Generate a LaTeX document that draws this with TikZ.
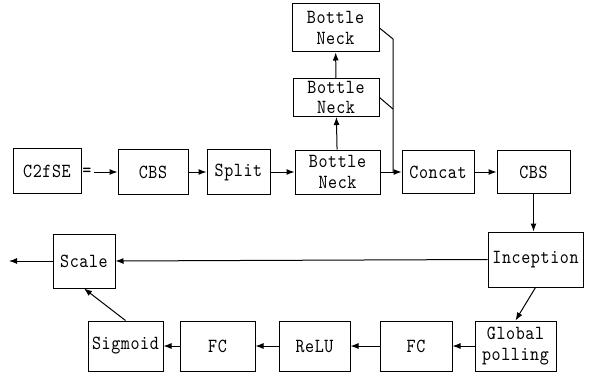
\documentclass[tikz,border=0pt]{standalone}
\usepackage{fontspec}
\usetikzlibrary{arrows.meta}
\newfontfamily\boxfont{lmmono10-regular.otf}[FakeStretch=0.86, LetterSpace=3]

\tikzset{
  blk/.style={draw, line width=1pt, inner sep=0pt, align=center,
    minimum height=45pt, font=\boxfont\fontsize{20}{20.5}\selectfont},
}

\begin{document}
\begin{tikzpicture}[x=1pt, y=-1pt, >={Latex[length=8pt,width=6pt]}, line width=1pt]
    \useasboundingbox (0,0) rectangle (593,377);
    % top row
    \node[blk, minimum width=68pt] (c2f) at (47,171) {C2fSE};
    \node[font=\boxfont\fontsize{20}{20.5}\selectfont, inner sep=0pt] (eq) at (87,172) {=};
    \node[blk, minimum width=70pt] (cbsa) at (153,172) {CBS};
    \node[blk, minimum width=63pt] (split) at (238.5,172) {Split};
    \node[blk, minimum width=85pt, minimum height=44pt] (bna) at (337.5,172) {Bottle\\Neck};
    \node[blk, minimum width=86pt, minimum height=38pt] (bnb) at (336,97.5) {Bottle\\Neck};
    \node[blk, minimum width=87pt, minimum height=48pt] (bnc) at (335.5,28) {Bottle\\Neck};
    \node[blk, minimum width=72pt, minimum height=43pt] (concat) at (438,172) {Concat};
    \node[blk, minimum width=73pt, minimum height=43pt] (cbsb) at (533.5,172) {CBS};
    % right column and bottom row
    \node[blk, minimum width=95pt, minimum height=55pt] (incep) at (535.5,259.5) {Inception};
    \node[blk, minimum width=81pt, minimum height=50pt] (gpool) at (515.5,346) {Global\\polling};
    \node[blk, minimum width=72pt, minimum height=50pt] (fca) at (416,346) {FC};
    \node[blk, minimum width=71pt, minimum height=50pt] (relu) at (314.5,346) {ReLU};
    \node[blk, minimum width=75pt, minimum height=50pt] (fcb) at (217.5,346) {FC};
    \node[blk, minimum width=75pt, minimum height=50pt] (sigm) at (125.5,346) {Sigmoid};
    \node[blk, minimum width=62pt, minimum height=54pt] (scale) at (84,261) {Scale};
    \coordinate (eqout) at (94,172);
    \coordinate (out) at (9,261);
    \coordinate (bt) at (393,39);
    \coordinate (bm) at (393,109);
    \coordinate (bb) at (393,172);
    % connectors
    \draw[->] (eqout) -- (cbsa);
    \draw[->] (cbsa) -- (split);
    \draw[->] (split) -- (bna);
    \draw[->] (bna) -- (bnb);
    \draw[->] (bnb) -- (bnc);
    \draw[->] (bna) -- (concat);
    \draw (bnc.east) -- (bt) -- (bb);
    \draw (bnb.east) -- (bm);
    \draw[->] (concat) -- (cbsb);
    \draw[->] (cbsb) -- (cbsb |- incep.north);
    \draw[->] (incep.west) -- (scale.east);
    \draw[->] (incep.south) -- (gpool.north);
    \draw[->] (gpool) -- (fca);
    \draw[->] (fca) -- (relu);
    \draw[->] (relu) -- (fcb);
    \draw[->] (fcb) -- (sigm);
    \draw[->] (sigm.north) -- (scale.south);
    \draw[->] (scale) -- (out);
\end{tikzpicture}
\end{document}
